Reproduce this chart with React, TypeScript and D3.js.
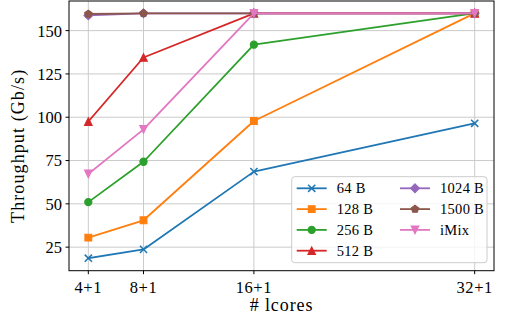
import React from "react";
import * as d3 from "d3";

const cores = [4, 8, 16, 32];
const tickLabels = ["4+1", "8+1", "16+1", "32+1"];
const yTicks = [25, 50, 75, 100, 125, 150];

const s64 = [18.6, 23.7, 68.6, 96.5];
const s128 = [30.5, 40.5, 97.8, 160];
const s256 = [51.0, 74.3, 141.9, 160];
const s512 = [97.5, 134.5, 160, 160];
const s1024 = [158.8, 160, 160, 160];
const s1500 = [159.6, 160, 160, 160];
const sIMix = [67.3, 93.0, 160, 160];

const seriesNames = ["64 B", "128 B", "256 B", "512 B", "1024 B", "1500 B", "iMix"];
const seriesValues = [s64, s128, s256, s512, s1024, s1500, sIMix];
const seriesColors = ["#1f77b4", "#ff7f0e", "#2ca02c", "#d62728", "#9467bd", "#8c564b", "#e377c2"];
const seriesMarkers = ["x", "s", "o", "^", "D", "p", "v"];

const FONT = "Liberation Serif";

function markerPath(kind: string): string {
  switch (kind) {
    case "x": {
      const r = 3.6;
      return `M${-r},${-r}L${r},${r}M${-r},${r}L${r},${-r}`;
    }
    case "s": {
      const r = 3.4;
      return `M${-r},${-r}H${r}V${r}H${-r}Z`;
    }
    case "o": {
      const r = 3.6;
      return `M${r},0A${r},${r} 0 1,1 ${-r},0A${r},${r} 0 1,1 ${r},0Z`;
    }
    case "^": {
      const r = 3.8;
      return `M0,${-r}L${r},${r}L${-r},${r}Z`;
    }
    case "v": {
      const r = 3.8;
      return `M0,${r}L${r},${-r}L${-r},${-r}Z`;
    }
    case "D": {
      const r = 4.4;
      return `M0,${-r}L${r},0L0,${r}L${-r},0Z`;
    }
    case "p": {
      const r = 3.9;
      const pts = d3.range(5).map((i) => {
        const a = -Math.PI / 2 + (i * 2 * Math.PI) / 5;
        return `${(r * Math.cos(a)).toFixed(2)},${(r * Math.sin(a)).toFixed(2)}`;
      });
      return "M" + pts.join("L") + "Z";
    }
  }
  return "";
}

function Marker({ kind, x, y, color }: { kind: string; x: number; y: number; color: string }) {
  const d = markerPath(kind);
  if (kind === "x") {
    return <path d={d} transform={`translate(${x},${y})`} stroke={color} strokeWidth={1.5} fill="none" />;
  }
  return <path d={d} transform={`translate(${x},${y})`} stroke={color} strokeWidth={1.1} fill={color} strokeLinejoin="miter" />;
}

export default function App() {
  const W = 509;
  const H = 316;
  const left = 69;
  const right = 494;
  const top = 1;
  const bottom = 270.7;

  const x = d3.scaleLinear().domain([2.6, 33.4]).range([left, right]);
  const y = d3.scaleLinear().domain([11.4, 167.1]).range([bottom, top]);
  const line = d3
    .line<number>()
    .x((_, i) => x(cores[i]))
    .y((v) => y(v));

  const gridColor = "#cbcbcb";

  const legendX = 291.7;
  const legendY = 176.7;
  const legendW = 195.3;
  const legendH = 86;
  const rowY = (r: number) => 188.3 + r * 20.8;
  const colX = [296.7, 400];
  const ts = { fontFamily: FONT } as React.CSSProperties;

  return (
    <svg
      width={W}
      height={H}
      viewBox={`0 0 ${W} ${H}`}
      style={{ position: "absolute", left: 0, top: 0, background: "#fff", fontFamily: FONT }}
    >
      <rect x={0} y={0} width={W} height={H} fill="#fff" />
      {cores.map((c) => (
        <line key={"gx" + c} x1={x(c)} x2={x(c)} y1={top} y2={bottom} stroke={gridColor} strokeWidth={1} />
      ))}
      {yTicks.map((t) => (
        <line key={"gy" + t} x1={left} x2={right} y1={y(t)} y2={y(t)} stroke={gridColor} strokeWidth={1} />
      ))}

      {seriesValues.map((vals, si) => (
        <g key={seriesNames[si]}>
          <path d={line(vals) || ""} fill="none" stroke={seriesColors[si]} strokeWidth={1.8} strokeLinejoin="round" strokeLinecap="square" />
          {vals.map((v, i) => (
            <Marker key={i} kind={seriesMarkers[si]} x={x(cores[i])} y={y(v)} color={seriesColors[si]} />
          ))}
        </g>
      ))}

      <rect x={left} y={top} width={right - left} height={bottom - top} fill="none" stroke="#000" strokeWidth={1} />

      {yTicks.map((t) => (
        <g key={"yt" + t}>
          <line x1={left - 3.5} x2={left} y1={y(t)} y2={y(t)} stroke="#000" strokeWidth={1} />
          <text style={ts} x={left - 7} y={y(t)} dy="0.36em" textAnchor="end" fontSize={16.5} fill="#000">
            {t}
          </text>
        </g>
      ))}
      {cores.map((c, i) => (
        <g key={"xt" + c}>
          <line x1={x(c)} x2={x(c)} y1={bottom} y2={bottom + 3.5} stroke="#000" strokeWidth={1} />
          <text style={ts} x={x(c)} y={292.5} textAnchor="middle" fontSize={16.5} letterSpacing={0.6} fill="#000">
            {tickLabels[i]}
          </text>
        </g>
      ))}

      <text style={ts} x={(left + right) / 2} y={311} textAnchor="middle" fontSize={18} letterSpacing={0.9} fill="#000">
        # lcores
      </text>
      <text
        style={ts}
        transform={`translate(23.5,${(top + bottom) / 2 + 10}) rotate(-90)`}
        textAnchor="middle"
        fontSize={18}
        letterSpacing={1.1}
        fill="#000"
      >
        Throughput (Gb/s)
      </text>

      <rect
        x={legendX}
        y={legendY}
        width={legendW}
        height={legendH}
        rx={3}
        ry={3}
        fill="#fff"
        fillOpacity={0.8}
        stroke="#cccccc"
        strokeWidth={1}
      />
      {seriesNames.map((name, si) => {
        const col = si < 4 ? 0 : 1;
        const row = si < 4 ? si : si - 4;
        const lx = colX[col];
        const ly = rowY(row);
        return (
          <g key={"lg" + name}>
            <line x1={lx} x2={lx + 30} y1={ly} y2={ly} stroke={seriesColors[si]} strokeWidth={1.8} />
            <Marker kind={seriesMarkers[si]} x={lx + 15} y={ly} color={seriesColors[si]} />
            <text style={ts} x={lx + 40} y={ly} dy="0.35em" fontSize={14.5} letterSpacing={0.3} fill="#000">
              {name}
            </text>
          </g>
        );
      })}
    </svg>
  );
}
